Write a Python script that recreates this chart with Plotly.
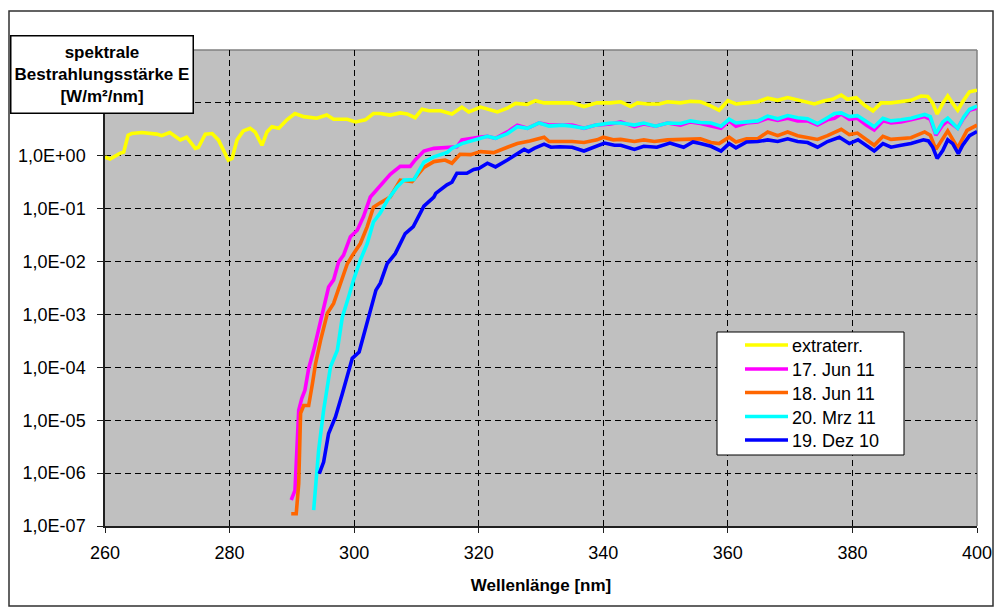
import plotly.graph_objects as go

# ---------------- data ----------------
series_names = ["extraterr.", "17. Jun 11", "18. Jun 11", "20. Mrz 11", "19. Dez 10"]
series_colors = ["#FFFF00", "#FF00FF", "#FF6600", "#00FFFF", "#0000FF"]

wl_extraterr = [260, 260.8, 262.4, 263, 263.7, 264.3, 265.9, 268.3, 269.1, 270.4,
                272.1, 273.1, 274.5, 275, 276.1, 277.2, 278.2, 279, 279.8, 280.4,
                281.2, 282.2, 283.3, 284.1, 285.2, 286, 286.8, 287.9, 289.2, 290.5,
                291.9, 294, 295.6, 296.7, 298.9, 300.2, 301.8, 303.1, 304.2, 305.8,
                307.4, 308.5, 309.8, 310.9, 312, 313.9, 315.7, 317.3, 318.4, 320.3,
                321.9, 323, 324.6, 325.9, 327.8, 329.1, 330.5, 333.2, 335, 336.9,
                339, 341.2, 342.8, 344.4, 345.5, 347.1, 349, 350.3, 352.4, 354,
                355.6, 357.3, 358.6, 360, 361.3, 363, 364.8, 366.4, 368, 369.6,
                371.7, 373.9, 375.5, 376.8, 378.2, 379.2, 380.6, 381.9, 383.3, 384.6,
                386.2, 387.8, 389.4, 391, 392.1, 392.9, 393.6, 394.5, 395.3, 396.1,
                396.9, 397.7, 398.8, 400]
E_extraterr = [0.95, 0.87, 1.11, 1.17, 2.45, 2.63, 2.75, 2.57, 2.4, 2.75,
               2.0, 2.24, 1.38, 1.45, 2.57, 2.63, 2.0, 1.32, 0.83, 0.89,
               2.0, 2.95, 3.31, 2.82, 1.58, 2.82, 3.55, 3.31, 4.79, 6.31,
               5.5, 5.13, 5.89, 4.9, 4.9, 4.37, 4.79, 6.31, 6.31, 5.89,
               6.46, 6.17, 5.25, 7.59, 7.08, 7.08, 6.17, 8.32, 6.76, 8.32,
               7.24, 6.76, 7.94, 9.77, 9.33, 11.0, 10.0, 9.77, 10.0, 8.51,
               10.0, 10.0, 10.5, 8.51, 10.0, 9.55, 9.55, 10.5, 10.0, 10.7,
               10.5, 8.71, 7.24, 11.0, 9.55, 10.0, 10.5, 12.3, 11.2, 12.6,
               11.2, 9.55, 11.0, 11.7, 14.1, 11.7, 12.6, 9.12, 7.08, 10.0,
               10.0, 10.5, 11.2, 13.5, 13.2, 9.77, 6.17, 9.77, 13.5, 9.77,
               7.24, 10.5, 16.2, 17.4]

wl_jun17 = [289.9, 290.5, 291.1, 291.6, 292.1, 292.7, 293.5, 294.3, 295.1, 295.9,
            296.7, 297.5, 298.3, 299.4, 300.5, 301.5, 302.6, 303.6, 304.7, 305.8,
            307.4, 309, 309.8, 311.2, 312.8, 314.9, 316.5, 317.3, 318.7, 320,
            321.4, 322.7, 324.6, 326.2, 327.8, 329.7, 331.3, 333.5, 335, 336.9,
            338.8, 341.2, 342.8, 345, 346.5, 348.4, 350.3, 352.4, 354, 355.6,
            357.3, 358.9, 360.2, 361.3, 363, 364.8, 366.4, 368, 369.6, 371.2,
            372.8, 374.4, 376, 377.1, 378.2, 379.5, 380.8, 382.2, 383.5, 384.9,
            386.2, 387.8, 389.4, 391.6, 392.5, 393.4, 394.5, 395.3, 396.9, 397.7,
            398.8, 400]
E_jun17 = [3.1e-7, 4.7e-7, 1.55e-5, 2.6e-5, 3.7e-5, 9.5e-5, 2.1e-4, 5.0e-4, 1.38e-3, 3.3e-3,
           4.5e-3, 9.8e-3, 1.32e-2, 2.95e-2, 3.9e-2, 7.1e-2, 0.166, 0.224, 0.316, 0.447,
           0.631, 0.631, 0.832, 1.23, 1.38, 1.45, 1.48, 2.0, 2.14, 2.24,
           2.34, 2.14, 2.82, 3.8, 3.31, 4.17, 3.8, 3.8, 3.8, 3.31,
           3.8, 3.98, 4.37, 3.55, 3.98, 3.63, 4.17, 3.8, 4.37, 4.07,
           3.63, 3.31, 4.57, 3.63, 4.17, 4.37, 5.13, 4.68, 5.13, 4.57,
           4.57, 3.8, 4.79, 5.13, 6.17, 4.9, 5.13, 3.8, 3.09, 4.57,
           4.17, 4.37, 4.79, 5.5, 4.9, 2.45, 3.8, 4.57, 3.31, 4.79,
           7.24, 7.94]

wl_jun18 = [289.9, 290.7, 291.1, 291.4, 291.9, 292.7, 293.3, 293.8, 294.6, 295.7,
            296.7, 297.8, 298.9, 299.9, 301, 302.1, 303.1, 304.2, 305.8, 307.4,
            309.3, 311.2, 312.8, 314.6, 315.7, 317, 318.7, 320.3, 322.4, 324.6,
            326.2, 328.2, 330.5, 331.3, 333.2, 335, 336.9, 339, 340, 341.6,
            342.8, 345, 346.5, 348.2, 350.3, 352.4, 354, 355.6, 357.3, 358.6,
            360.2, 361.3, 363, 364.8, 366.4, 368, 369.6, 371.2, 374.4, 376,
            378.2, 379.5, 380.8, 383.5, 384.9, 386.2, 389.4, 391.6, 392.5, 393.4,
            395.3, 396.9, 398.4, 400]
E_jun18 = [1.7e-7, 1.7e-7, 6.3e-7, 1.35e-5, 1.9e-5, 1.9e-5, 4.9e-5, 1.17e-4, 3.2e-4, 1.05e-3,
           1.62e-3, 3.9e-3, 9.1e-3, 1.41e-2, 2.19e-2, 4.57e-2, 0.107, 0.129, 0.166, 0.347,
           0.324, 0.603, 0.776, 0.832, 0.724, 1.07, 1.05, 1.20, 1.15, 1.45,
           1.70, 1.91, 2.24, 1.86, 1.86, 1.86, 1.78, 2.0, 2.24, 2.0,
           2.04, 1.86, 2.0, 1.86, 2.0, 2.04, 2.14, 2.09, 1.78, 1.70,
           2.24, 1.82, 2.09, 2.09, 2.82, 2.4, 2.82, 2.4, 2.04, 2.4,
           3.16, 2.51, 2.69, 1.58, 2.34, 2.04, 2.19, 2.82, 2.45, 1.32,
           2.95, 1.41, 3.02, 3.8]

wl_mrz20 = [293.5, 294.3, 295.1, 296.2, 297.3, 298.1, 299.1, 299.9, 301, 302.1,
            303.1, 304.2, 305.3, 306.9, 308, 309.6, 311.2, 312.8, 314.9, 315.7,
            317.3, 318.7, 320.3, 321.4, 322.7, 324.6, 326.2, 327.8, 329.7, 331.3,
            333.5, 335, 336.9, 338.8, 341.2, 342.8, 345, 346.5, 348.4, 350.3,
            352.4, 354, 355.6, 357.3, 358.9, 360.2, 361.3, 363, 364.8, 366.4,
            368, 369.6, 371.2, 372.8, 374.4, 376, 377.1, 378.2, 379.5, 380.8,
            382.2, 383.5, 384.9, 386.2, 387.8, 389.4, 391.6, 392.5, 393.4, 394.5,
            395.3, 396.9, 397.9, 398.8, 400]
E_mrz20 = [2.0e-7, 2.7e-6, 1.55e-5, 1.02e-4, 2.1e-4, 8.9e-4, 2.14e-3, 4.47e-3, 1.07e-2, 2.19e-2,
           5.6e-2, 8.3e-2, 0.141, 0.257, 0.347, 0.355, 0.759, 0.955, 1.15, 1.38,
           1.70, 1.86, 2.14, 2.34, 2.14, 2.63, 3.55, 3.31, 4.17, 3.63,
           3.8, 3.63, 3.31, 3.8, 4.17, 4.17, 3.8, 4.17, 3.63, 4.17,
           4.07, 4.57, 4.27, 4.17, 3.63, 4.9, 4.17, 4.37, 4.57, 5.62,
           5.01, 5.75, 5.25, 5.01, 4.07, 5.25, 6.31, 6.46, 5.5, 5.75,
           4.37, 3.55, 5.13, 4.57, 4.79, 5.13, 6.03, 5.5, 2.63, 4.37,
           5.13, 3.31, 5.5, 7.59, 8.71]

wl_dez19 = [294.4, 295.1, 295.9, 297, 298.1, 298.9, 299.7, 300.8, 301.6, 302.4,
            303.5, 304.2, 305.3, 306.6, 308.2, 309.5, 311.2, 312.8, 313.1, 314.9,
            315.7, 316.5, 318.1, 319.2, 320, 321.4, 322.7, 324.6, 326.2, 327.3,
            328, 328.9, 330.5, 331.6, 333, 335, 336.9, 338.6, 340.2, 341.8,
            342.8, 345, 346.5, 348.6, 350.7, 352.9, 354.4, 355.6, 357.3, 358.9,
            360.2, 361.3, 363, 364.8, 366.4, 368, 369.6, 371.2, 372.8, 374.4,
            376, 377.9, 379.5, 380.9, 382.2, 383.5, 384.9, 386.2, 387.8, 389.4,
            391.4, 392.2, 392.9, 393.6, 394.5, 395.3, 396.1, 397, 397.7, 398.8,
            400]
E_dez19 = [9.8e-7, 1.62e-6, 5.6e-6, 1.15e-5, 3.16e-5, 6.6e-5, 1.48e-4, 1.95e-4, 4.4e-4, 8.9e-4,
           2.88e-3, 3.9e-3, 9.1e-3, 1.41e-2, 3.39e-2, 4.57e-2, 0.112, 0.166, 0.195, 0.282,
           0.316, 0.468, 0.468, 0.55, 0.575, 0.724, 0.617, 0.832, 1.10, 1.32,
           1.20, 1.38, 1.66, 1.45, 1.48, 1.45, 1.23, 1.45, 1.74, 1.58,
           1.58, 1.32, 1.51, 1.45, 1.74, 1.45, 1.82, 1.70, 1.51, 1.23,
           1.70, 1.41, 1.82, 1.86, 2.0, 1.86, 2.09, 1.86, 1.78, 1.45,
           1.86, 2.24, 1.70, 2.0, 1.58, 1.23, 1.70, 1.45, 1.58, 1.70,
           2.0, 1.91, 1.45, 0.89, 1.26, 2.0, 1.70, 1.10, 1.58, 2.4,
           2.88]

x_tick_vals = [260, 280, 300, 320, 340, 360, 380, 400]
y_tick_vals = [1e-7, 1e-6, 1e-5, 1e-4, 1e-3, 1e-2, 1e-1, 1e0, 1e1, 1e2]
y_tick_text = ["1,0E-07", "1,0E-06", "1,0E-05", "1,0E-04", "1,0E-03",
               "1,0E-02", "1,0E-01", "1,0E+00", "", ""]

y_title = "spektrale<br>Bestrahlungsstärke E<br>[W/m²/nm]"
x_title = "Wellenlänge [nm]"

# ---------------- figure ----------------
W, H = 994, 607
ML, MR, MT, MB = 105, 17, 50, 81
PW, PH = W - ML - MR, H - MT - MB


def px_x(p):
    return (p - ML) / PW


def px_y(p):
    return (H - MB - p) / PH


xs = [wl_extraterr, wl_jun17, wl_jun18, wl_mrz20, wl_dez19]
ys = [E_extraterr, E_jun17, E_jun18, E_mrz20, E_dez19]

fig = go.Figure()
for name, color, x, y in zip(series_names, series_colors, xs, ys):
    fig.add_trace(go.Scatter(x=x, y=y, mode="lines", name=name,
                             line=dict(color=color, width=3.6), showlegend=False))

FONT = "Liberation Sans, Arial, sans-serif"

fig.update_layout(
    width=W, height=H, autosize=False,
    margin=dict(l=ML, r=MR, t=MT, b=MB, pad=0, autoexpand=False),
    paper_bgcolor="white",
    plot_bgcolor="#C0C0C0",
    font=dict(family=FONT, size=18, color="black"),
    showlegend=False,
)

fig.update_xaxes(
    range=[260, 400], tickvals=x_tick_vals, automargin=False,
    showgrid=True, gridcolor="black", griddash="6px,4px", gridwidth=1,
    showline=True, linecolor="#202020", linewidth=1.5,
    ticks="outside", ticklen=5, tickcolor="#202020",
    tickfont=dict(family=FONT, size=18),
    ticklabelstandoff=5,
    zeroline=False,
    title=dict(text="<b>" + x_title + "</b>", font=dict(family=FONT, size=17), standoff=17),
)
fig.update_yaxes(
    type="log", range=[-7, 2], tickvals=y_tick_vals, ticktext=y_tick_text, automargin=False,
    showgrid=True, gridcolor="black", griddash="6px,4px", gridwidth=1,
    showline=True, linecolor="#202020", linewidth=1.5,
    ticks="outside", ticklen=6, tickcolor="#202020",
    tickfont=dict(family=FONT, size=18),
    ticklabelstandoff=8,
    zeroline=False,
)

# plot area frame (top/right grey)
fig.add_shape(type="line", xref="paper", yref="paper", x0=0, x1=1, y0=1, y1=1,
              line=dict(color="#808080", width=1.5), layer="below")
fig.add_shape(type="line", xref="paper", yref="paper", x0=1, x1=1, y0=0, y1=1,
              line=dict(color="#808080", width=1.5), layer="below")

# outer chart border
fig.add_shape(type="rect", xref="paper", yref="paper",
              x0=px_x(9), x1=px_x(993), y0=px_y(606), y1=px_y(11),
              line=dict(color="#303030", width=1.5), fillcolor="rgba(0,0,0,0)", layer="above")

# y-axis title box
fig.add_annotation(
    xref="paper", yref="paper",
    x=px_x(101.5), y=px_y(74),
    xanchor="center", yanchor="middle",
    text="<b>" + y_title + "</b>", showarrow=False,
    font=dict(family=FONT, size=17, color="black"),
    align="center",
    width=181, height=76, borderpad=0, borderwidth=1.5,
    bordercolor="black", bgcolor="white",
)

# legend (box, line keys, labels)
fig.add_shape(type="rect", xref="paper", yref="paper",
              x0=px_x(717), x1=px_x(904), y0=px_y(455), y1=px_y(332),
              line=dict(color="black", width=1), fillcolor="white", layer="above")
legend_rows = [345, 369, 392.5, 416.5, 440]
for name, color, row in zip(series_names, series_colors, legend_rows):
    fig.add_shape(type="line", xref="paper", yref="paper",
                  x0=px_x(745), x1=px_x(788), y0=px_y(row), y1=px_y(row),
                  line=dict(color=color, width=3.5), layer="above")
    fig.add_annotation(xref="paper", yref="paper", x=px_x(790), y=px_y(row + 1),
                       xanchor="left", yanchor="middle", text=name, showarrow=False,
                       font=dict(family=FONT, size=18, color="black"))

fig.write_html("out.html", config={"displayModeBar": False, "responsive": False},
               post_script="document.body.style.margin='0px';")
